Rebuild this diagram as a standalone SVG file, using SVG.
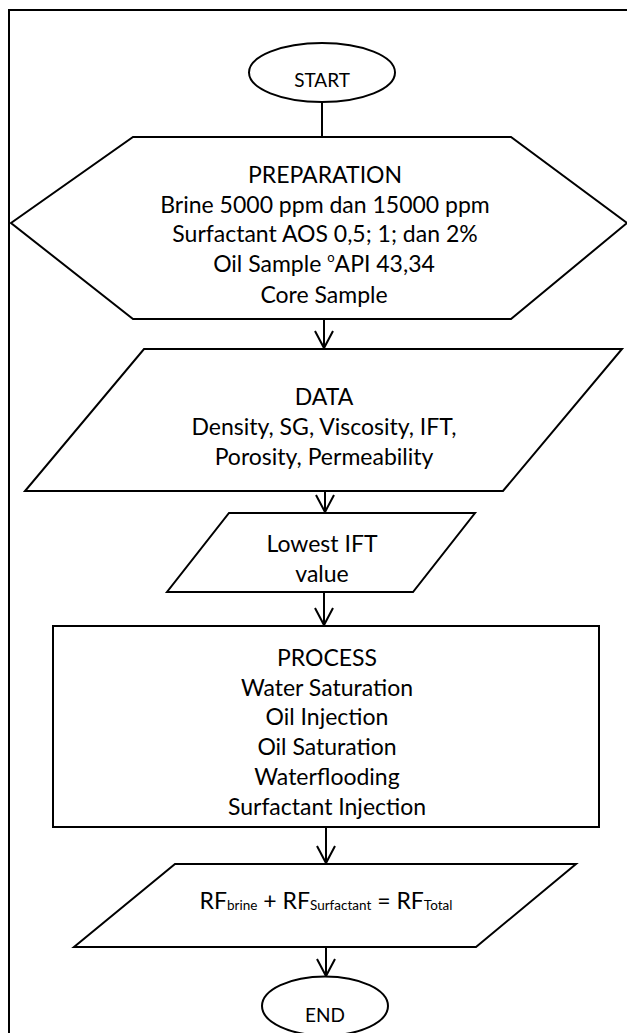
<svg xmlns="http://www.w3.org/2000/svg" width="627" height="1033" viewBox="0 0 627 1033">
  <style>
    .shape { fill: #ffffff; stroke: #000000; stroke-width: 2; stroke-linejoin: miter; }
    .frame { fill: none; stroke: #000000; stroke-width: 2; }
    .conn { fill: none; stroke: #000000; stroke-width: 2; }
    .t { font-family: Lato, "Liberation Sans", sans-serif; font-size: 23px; fill: #000000; text-anchor: middle; }
    .ts { font-family: Lato, "Liberation Sans", sans-serif; font-size: 19px; fill: #000000; text-anchor: middle; }
    .sub { font-size: 13.5px; }
    .sup { font-size: 13px; }
  </style>
  <defs>
    <marker id="arrow" markerUnits="userSpaceOnUse" markerWidth="24" markerHeight="24" viewBox="-20 -12 24 24" refX="0" refY="0" orient="auto">
      <path d="M -17 -9 L 0 0 L -17 9" fill="none" stroke="#000000" stroke-width="2"/>
    </marker>
  </defs>
  <path class="frame" d="M 660 10 L 9 10 L 9 1060"/>

  <g id="connectors">
    <line class="conn" x1="322" y1="102" x2="322" y2="137"/>
    <line class="conn" x1="324" y1="319" x2="324" y2="348" marker-end="url(#arrow)"/>
    <line class="conn" x1="325" y1="491" x2="325" y2="512" marker-end="url(#arrow)"/>
    <line class="conn" x1="324" y1="592" x2="324" y2="625" marker-end="url(#arrow)"/>
    <line class="conn" x1="326" y1="827" x2="326" y2="863" marker-end="url(#arrow)"/>
    <line class="conn" x1="326" y1="947" x2="326" y2="976" marker-end="url(#arrow)"/>
  </g>

  <g id="start">
    <ellipse class="shape" cx="322" cy="72.5" rx="73" ry="29.5"/>
    <text class="ts" x="322" y="87">START</text>
  </g>

  <g id="preparation">
    <polygon class="shape" points="133,137 511,137 627,223 511,319 133,319 11,223"/>
    <text class="t" x="325" y="183">PREPARATION</text>
    <text class="t" x="325" y="213">Brine 5000 ppm dan 15000 ppm</text>
    <text class="t" x="325" y="242">Surfactant AOS 0,5; 1; dan 2%</text>
    <text class="t" x="324" y="272">Oil Sample <tspan class="sup" dy="-10">o</tspan><tspan dy="10">API 43,34</tspan></text>
    <text class="t" x="324" y="303">Core Sample</text>
  </g>

  <g id="data">
    <polygon class="shape" points="144,349 622,349 503,491 25,491"/>
    <text class="t" x="324" y="405">DATA</text>
    <text class="t" x="324" y="435">Density, SG, Viscosity, IFT,</text>
    <text class="t" x="324" y="465">Porosity, Permeability</text>
  </g>

  <g id="lowest-ift">
    <polygon class="shape" points="229,513 475,513 413,592 167,592"/>
    <text class="t" x="322" y="552">Lowest IFT</text>
    <text class="t" x="322" y="582">value</text>
  </g>

  <g id="process">
    <rect class="shape" x="53" y="626" width="546" height="201"/>
    <text class="t" x="327" y="666">PROCESS</text>
    <text class="t" x="327" y="696">Water Saturation</text>
    <text class="t" x="327" y="725">Oil Injection</text>
    <text class="t" x="327" y="755">Oil Saturation</text>
    <text class="t" x="327" y="785">Waterflooding</text>
    <text class="t" x="327" y="815">Surfactant Injection</text>
  </g>

  <g id="result">
    <polygon class="shape" points="175,864 576,864 476,947 74,947"/>
    <text class="t" x="326" y="909">RF<tspan class="sub" dy="1">brine</tspan><tspan dy="-1"> + RF</tspan><tspan class="sub" dy="1">Surfactant</tspan><tspan dy="-1"> = RF</tspan><tspan class="sub" dy="1">Total</tspan></text>
  </g>

  <g id="end">
    <ellipse class="shape" cx="325" cy="1006" rx="63" ry="29.5"/>
    <text class="ts" x="325" y="1022">END</text>
  </g>
</svg>
